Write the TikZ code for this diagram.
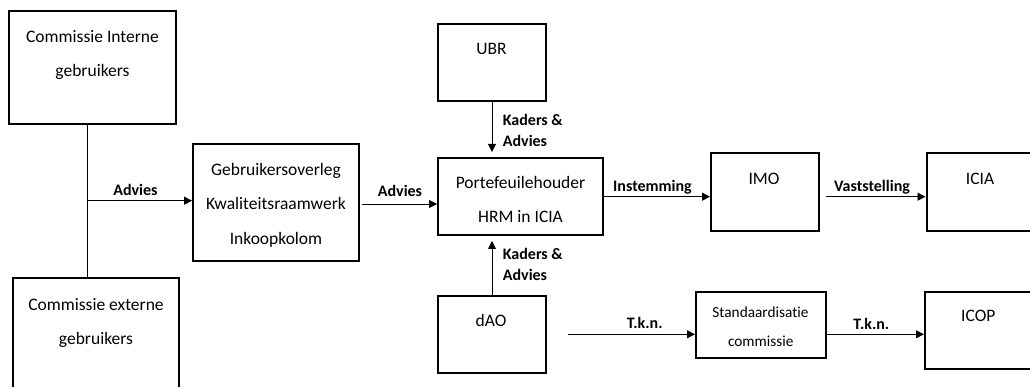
\documentclass[tikz,border=0pt]{standalone}
\usepackage{fontspec}
\setmainfont[Ligatures={NoCommon}]{Carlito}
\usetikzlibrary{arrows.meta}
\begin{document}
\begin{tikzpicture}[x=1pt,y=-1pt,
  box/.style={draw,line width=2pt,inner sep=0pt,minimum width=#1},
  txt/.style={anchor=base,inner sep=0pt,font=\fontsize{17.5}{20}\selectfont},
  smalltxt/.style={anchor=base,inner sep=0pt,font=\fontsize{15.3}{18}\selectfont},
  lbl/.style={anchor=base,inner sep=0pt,font=\fontsize{16}{18}\selectfont\bfseries},
  lblleft/.style={anchor=base west,inner sep=0pt,font=\fontsize{16}{18}\selectfont\bfseries},
  conn/.style={line width=0.8pt},
  arr/.style={line width=0.8pt,-{Triangle[length=8pt,width=8pt]}}]
\useasboundingbox (0,0) rectangle (1030,387);
% boxes
\node[box=167pt,minimum height=113pt] (ci) at (92.5,67.5) {};
\node[box=166pt,minimum height=122pt] (ce) at (96,339) {};
\node[box=166pt,minimum height=117pt] (go) at (276,202.5) {};
\node[box=165pt,minimum height=77pt] (pf) at (520.5,196.5) {};
\node[box=108pt,minimum height=77pt] (ubr) at (492,62.5) {};
\node[box=108pt,minimum height=77pt] (dao) at (492,334.5) {};
\node[box=108pt,minimum height=78pt] (imo) at (765,192) {};
\node[box=108pt,minimum height=78pt] (icia) at (980.5,192) {};
\node[box=130pt,minimum height=66pt] (std) at (761,324.5) {};
\node[box=108pt,minimum height=77pt] (icop) at (979,330) {};
% texts
\node[txt] (t1) at (92.5,43) {Commissie Interne};
\node[txt] (t2) at (92.5,77) {gebruikers};
\node[txt] (t3) at (96,310) {Commissie externe};
\node[txt] (t4) at (96,344) {gebruikers};
\node[txt] (t5) at (276,176) {Gebruikersoverleg};
\node[txt] (t6) at (276,210) {Kwaliteitsraamwerk};
\node[txt] (t7) at (276,245) {Inkoopkolom};
\node[txt] (t8) at (520.5,189) {Portefeuilehouder};
\node[txt] (t9) at (520.5,223) {HRM in ICIA};
\node[txt] (t10) at (491.5,55) {UBR};
\node[txt] (t11) at (491,326.5) {dAO};
\node[txt] (t12) at (764,184.3) {IMO};
\node[txt] (t13) at (980,184.3) {ICIA};
\node[txt] (t14) at (978.3,321.7) {ICOP};
\node[smalltxt] (t15) at (760.5,317.3) {Standaardisatie};
\node[smalltxt] (t16) at (760.8,346) {commissie};
% coordinates
\coordinate (j) at (87,200.7);
\coordinate (goout) at (362,204);
\coordinate (imoout) at (826,196.7);
\coordinate (daoout) at (568,334.3);
% connectors
\draw[conn] (ci.south -| j) -- (ce.north -| j);
\draw[arr] (j) -- (go.west |- j);
\draw[arr] (goout) -- (pf.west |- goout);
\draw[arr,shorten >=5pt] (ubr.south) -- (pf.north -| ubr.south);
\draw[arr,shorten >=5pt] (dao.north) -- (pf.south -| dao.north);
\draw[arr] (pf.east |- imoout) -- (imo.west |- imoout);
\draw[arr] (imoout) -- (icia.west |- imoout);
\draw[arr] (daoout) -- (std.west |- daoout);
\draw[arr] (std.east |- daoout) -- (icop.west |- daoout);
% labels
\node[lbl] (l1) at (135.5,196) {Advies};
\node[lbl] (l2) at (400,197) {Advies};
\node[lblleft] (l3) at (502.7,126) {Kaders \&};
\node[lblleft] (l4) at (502.7,146.7) {Advies};
\node[lblleft] (l5) at (502.7,260) {Kaders \&};
\node[lblleft] (l6) at (502.7,280.7) {Advies};
\node[lbl] (l7) at (652.5,191.7) {Instemming};
\node[lbl] (l8) at (872,191.7) {Vaststelling};
\node[lbl] (l9) at (644.7,328.8) {T.k.n.};
\node[lbl] (l10) at (871.3,329.3) {T.k.n.};
\end{tikzpicture}
\end{document}
